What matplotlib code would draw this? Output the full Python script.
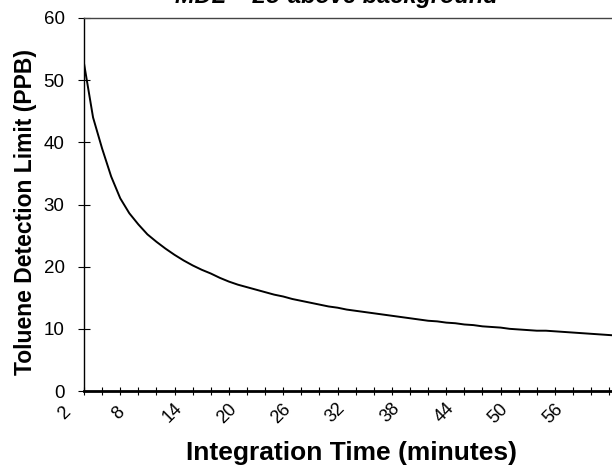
import matplotlib
matplotlib.use('Agg')
import matplotlib.pyplot as plt
from matplotlib.ticker import FixedLocator, MultipleLocator
from matplotlib.transforms import ScaledTranslation

# integration time categories (minutes) and detection limit
minutes = list(range(2, 62))
detection_limit = [52.7, 44.0, 39.0, 34.5, 31.0, 28.6, 26.8, 25.2, 24.0, 22.9,
                   21.9, 21.0, 20.2, 19.5, 18.9, 18.2, 17.6, 17.1, 16.7, 16.3,
                   15.9, 15.5, 15.2, 14.8, 14.5, 14.2, 13.9, 13.6, 13.4, 13.1,
                   12.9, 12.7, 12.5, 12.3, 12.1, 11.9, 11.7, 11.5, 11.3, 11.2,
                   11.0, 10.9, 10.7, 10.6, 10.4, 10.3, 10.2, 10.0, 9.9, 9.8,
                   9.7, 9.7, 9.6, 9.5, 9.4, 9.3, 9.2, 9.1, 9.0, 8.9]
x_labels = [2, 8, 14, 20, 26, 32, 38, 44, 50, 56]
y_ticks = [0, 10, 20, 30, 40, 50, 60]

plt.rcParams['font.family'] = ['Liberation Sans', 'DejaVu Sans']

fig = plt.figure(figsize=(6.12, 4.70), dpi=100)
ax = fig.add_axes([84 / 612, 1 - 391 / 470, 1 - 84 / 612, (391 - 18) / 470])

ax.plot(minutes, detection_limit, color='black', linewidth=1.4)

ax.set_xlim(2, 60.3)
ax.set_ylim(0, 60)

ax.xaxis.set_major_locator(FixedLocator(x_labels))
ax.xaxis.set_minor_locator(MultipleLocator(2))
ax.set_xticklabels([str(v) for v in x_labels], rotation=45, ha='center',
                   va='center', rotation_mode='anchor', fontsize=13)
ax.set_yticks(y_ticks)
ax.set_yticklabels([str(v) for v in y_ticks], fontsize=13.5)

ax.tick_params(axis='x', which='both', direction='inout', length=6, width=0.8, pad=13)
ax.tick_params(axis='y', which='both', direction='inout', length=8, width=0.8, pad=10)

offset = ScaledTranslation(-20 / 100, 0, fig.dpi_scale_trans)
for lab in ax.get_xticklabels():
    lab.set_transform(lab.get_transform() + offset)

ax.spines['right'].set_visible(False)
ax.spines['left'].set_linewidth(1.0)
ax.spines['bottom'].set_linewidth(2.0)
ax.spines['top'].set_linewidth(1.0)
ax.spines['top'].set_color('#444444')

ax.set_xlabel('Integration Time (minutes)', fontsize=19, fontweight='bold', labelpad=0)
ax.xaxis.set_label_coords((352 - 84) / (612 - 84), -(441 - 391) / 373)
ax.set_ylabel('Toluene Detection Limit (PPB)', fontsize=16.5, fontweight='bold')
ax.yaxis.set_label_coords(-(84 - 37) / 528, (391 - 212) / 373)

fig.text(336 / 612, 1 - 3 / 470, 'MDL = 2σ above background', ha='center',
         va='baseline', fontsize=17, fontweight='bold', fontstyle='italic')

fig.savefig('out.png', dpi=100)
